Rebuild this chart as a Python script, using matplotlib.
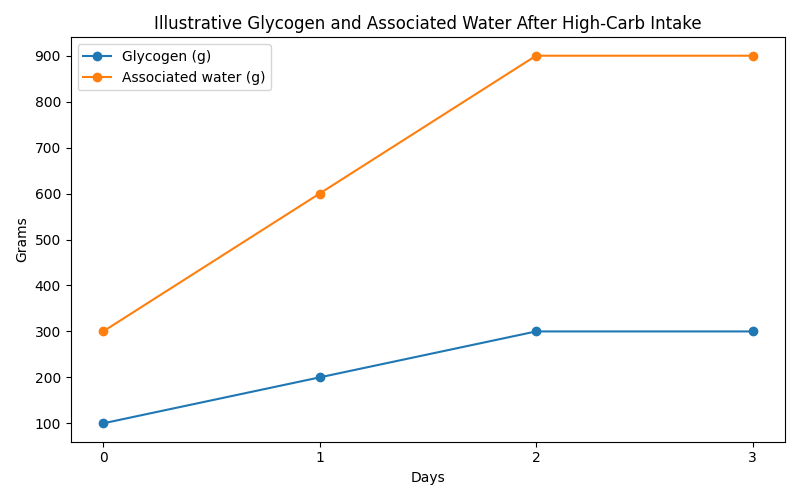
import matplotlib
matplotlib.use("Agg")
import matplotlib.pyplot as plt

days = [0, 1, 2, 3]
glycogen = [100, 200, 300, 300]
water = [300, 600, 900, 900]

fig, ax = plt.subplots(figsize=(8, 5), dpi=100)
ax.plot(days, glycogen, marker="o", label="Glycogen (g)")
ax.plot(days, water, marker="o", label="Associated water (g)")
ax.set_title("Illustrative Glycogen and Associated Water After High-Carb Intake")
ax.set_xlabel("Days")
ax.set_ylabel("Grams")
ax.set_xticks(days)
ax.legend(loc="upper left")
fig.tight_layout()
fig.savefig("out.png")
